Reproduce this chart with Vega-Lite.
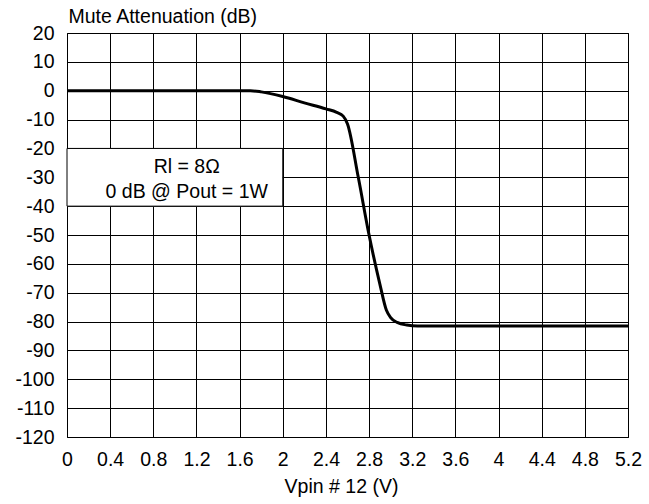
{
  "$schema": "https://vega.github.io/schema/vega-lite/v6.json",
  "autosize": {"type": "none"},
  "width": 561,
  "height": 404,
  "padding": {"left": 67, "top": 33, "right": 21, "bottom": 67},
  "background": "white",
  "datasets": {
    "curve": [
      {"x": 0, "y": 0},
      {"x": 1.7, "y": 0},
      {"x": 1.8, "y": -0.4},
      {"x": 2.0, "y": -2.0},
      {"x": 2.2, "y": -4.2},
      {"x": 2.4, "y": -6.3},
      {"x": 2.5, "y": -7.5},
      {"x": 2.56, "y": -8.8},
      {"x": 2.6, "y": -11.5},
      {"x": 2.7, "y": -30},
      {"x": 2.8, "y": -50},
      {"x": 2.9, "y": -67},
      {"x": 2.96, "y": -76},
      {"x": 3.0, "y": -78.6},
      {"x": 3.06, "y": -80.3},
      {"x": 3.15, "y": -81.2},
      {"x": 3.25, "y": -81.5},
      {"x": 5.2, "y": -81.5}
    ],
    "box": [{"x": 0, "x2": 2.0, "y": -20, "y2": -40}],
    "notes": [
      {"x": 1.11, "y": -26.4, "label": "Rl = 8Ω"},
      {"x": 1.11, "y": -35.1, "label": "0 dB @ Pout = 1W"}
    ]
  },
  "config": {
    "font": "Liberation Sans",
    "view": {"stroke": "black", "strokeWidth": 1},
    "axis": {
      "labelFont": "Liberation Sans",
      "titleFont": "Liberation Sans",
      "labelFontSize": 19.5,
      "titleFontSize": 19.5,
      "labelColor": "black",
      "titleColor": "black",
      "titleFontWeight": "normal",
      "gridColor": "black",
      "gridOpacity": 1,
      "gridWidth": 1,
      "domain": false,
      "ticks": false,
      "labelOverlap": false,
      "labelFlush": false
    }
  },
  "encoding": {
    "x": {
      "field": "x", "type": "quantitative",
      "scale": {"domain": [0, 5.2], "nice": false, "zero": false},
      "axis": {
        "values": [0, 0.4, 0.8, 1.2, 1.6, 2, 2.4, 2.8, 3.2, 3.6, 4, 4.4, 4.8, 5.2],
        "labelExpr": "'' + datum.value",
        "labelPadding": 13,
        "labelOverlap": false,
        "title": "Vpin # 12 (V)",
        "titlePadding": 9,
        "titleX": 274,
        "titleAnchor": "start",
        "titleAlign": "center"
      }
    },
    "y": {
      "field": "y", "type": "quantitative",
      "scale": {"domain": [-120, 20], "nice": false, "zero": false},
      "axis": {
        "values": [20, 10, 0, -10, -20, -30, -40, -50, -60, -70, -80, -90, -100, -110, -120],
        "labelExpr": "'' + datum.value",
        "labelPadding": 13,
        "labelOverlap": false,
        "title": "Mute Attenuation (dB)",
        "titleAngle": 0,
        "titleAlign": "left",
        "titleBaseline": "alphabetic",
        "titleX": 1,
        "titleY": -11
      }
    }
  },
  "layer": [
    {
      "data": {"name": "box"},
      "mark": {"type": "rect", "fill": "white", "stroke": "black", "strokeWidth": 1},
      "encoding": {
        "x2": {"field": "x2"},
        "y2": {"field": "y2"}
      }
    },
    {
      "data": {"name": "curve"},
      "mark": {"type": "line", "color": "black", "strokeWidth": 3, "interpolate": "monotone"},
      "encoding": {}
    },
    {
      "data": {"name": "notes"},
      "mark": {"type": "text", "font": "Liberation Sans", "fontSize": 19.5, "color": "black", "align": "center", "baseline": "middle"},
      "encoding": {
        "text": {"field": "label"}
      }
    }
  ]
}
